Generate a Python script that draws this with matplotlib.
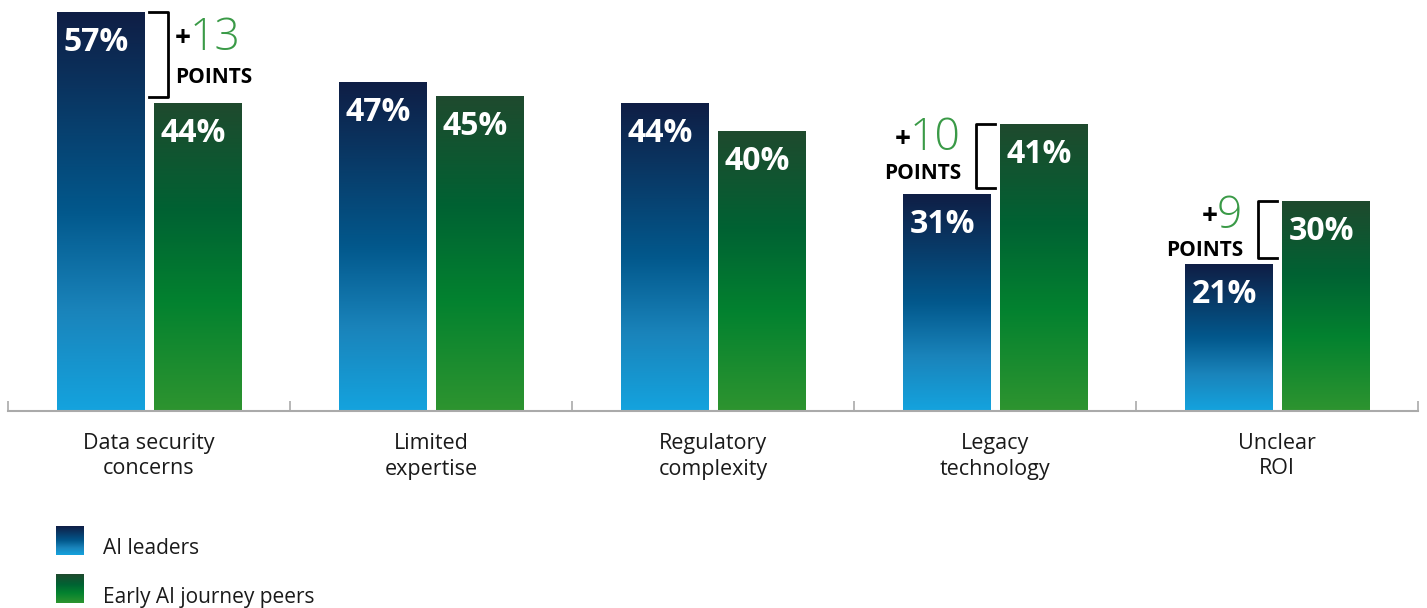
import numpy as np
import matplotlib
matplotlib.use('Agg')
from matplotlib import pyplot as plt
from matplotlib.colors import LinearSegmentedColormap

categories = ['Data security\nconcerns', 'Limited\nexpertise', 'Regulatory\ncomplexity',
              'Legacy\ntechnology', 'Unclear\nROI']
leaders = [57, 47, 44, 31, 21]
peers = [44, 45, 40, 41, 30]
series_names = ['AI leaders', 'Early AI journey peers']
gap_points = [13, None, None, 10, 9]

plt.rcParams['font.family'] = ['Open Sans', 'DejaVu Sans']

blue_cmap = LinearSegmentedColormap.from_list(
    'blue', [(0, '#14a3de'), (0.25, '#1a84bb'), (0.5, '#02588c'), (1, '#0f1e45')])
green_cmap = LinearSegmentedColormap.from_list(
    'green', [(0, '#2e9430'), (0.35, '#03822f'), (0.65, '#006233'), (1, '#1f4a2e')])

fig = plt.figure(figsize=(14.27, 6.08), dpi=100)
ax = fig.add_axes([8/1427, 197/608, 1410/1427, 411/608])

x = np.arange(len(categories))
off = 0.172
w = 0.312
b1 = ax.bar(x - off, leaders, w, color='none')
b2 = ax.bar(x + off, peers, w, color='none')

grad = np.linspace(0, 1, 256).reshape(-1, 1)
for bars, cmap in [(b1, blue_cmap), (b2, green_cmap)]:
    for p in bars:
        x0, y0 = p.get_x(), p.get_y()
        im = ax.imshow(grad, cmap=cmap, origin='lower', aspect='auto',
                       extent=[x0, x0 + p.get_width(), y0, y0 + p.get_height()],
                       interpolation='bilinear', zorder=2)
        im.set_clip_path(p)
        ax.text(x0 + p.get_width()/2 - 0.015, y0 + p.get_height() - 2.0,
                '%d%%' % p.get_height(), color='white', fontsize=23,
                fontweight='bold', ha='center', va='top', zorder=3)

ax.set_xlim(-0.5, 4.5)
ax.set_ylim(0, 411/7)
for s in ['top', 'left', 'right']:
    ax.spines[s].set_visible(False)
ax.spines['bottom'].set_color('#aaaaaa')
ax.spines['bottom'].set_linewidth(1.5)
ax.set_yticks([])
ax.set_xticks(np.arange(-0.5, 5, 1))
ax.set_xticklabels([])
ax.tick_params(axis='x', direction='in', length=7, width=1.2, color='#aaaaaa')
for i, c in enumerate(categories):
    ax.text(i, -3.1, c, ha='center', va='top', fontsize=15.5, color='#1a1a1a',
            linespacing=1.3)

# gap brackets
bw = 0.07
for i, g in enumerate(gap_points):
    if g is None:
        continue
    hi = max(leaders[i], peers[i])
    lo = min(leaders[i], peers[i]) + 0.8
    if leaders[i] > peers[i]:
        xv = i - off + w/2 + 0.085
        ax.plot([xv - bw, xv, xv, xv - bw], [hi, hi, lo, lo], color='black', lw=2, zorder=3)
        tx = xv + 0.025
        num = ax.text(tx + 0.05, hi - 0.6, str(g), fontsize=32, fontweight='light',
                      color='#3a9a47', ha='left', va='top')
        ax.annotate('+', xy=(0, 0.5), xycoords=num, xytext=(1, 0), textcoords='offset points',
                    fontsize=20, fontweight='bold', ha='right', va='center')
        ax.text(tx, hi - 7.8, 'POINTS', fontsize=15, fontweight='bold', ha='left', va='top')
    else:
        xv = i + off - w/2 - 0.085
        ax.plot([xv + bw, xv, xv, xv + bw], [hi, hi, lo, lo], color='black', lw=2, zorder=3)
        tx = xv - 0.055
        num = ax.text(tx, hi + 1.0, str(g), fontsize=32, fontweight='light',
                      color='#3a9a47', ha='right', va='top')
        ax.annotate('+', xy=(0, 0.5), xycoords=num, xytext=(1, 0), textcoords='offset points',
                    fontsize=20, fontweight='bold', ha='right', va='center')
        ax.text(tx + 0.003, hi - 5.6, 'POINTS', fontsize=15, fontweight='bold', ha='right', va='top')

# legend
for j, (name, cmap) in enumerate(zip(series_names, [blue_cmap, green_cmap])):
    y0 = 1 - (526 + 48*j + 29)/608
    lax = fig.add_axes([56/1427, y0, 28/1427, 29/608])
    lax.imshow(grad, cmap=cmap, origin='lower', aspect='auto', interpolation='bilinear')
    lax.axis('off')
    fig.text(103/1427, 1 - (549 + 48*j)/608, name, fontsize=15, color='#1a1a1a',
             ha='left', va='center')

plt.savefig('out.png', dpi=100)
